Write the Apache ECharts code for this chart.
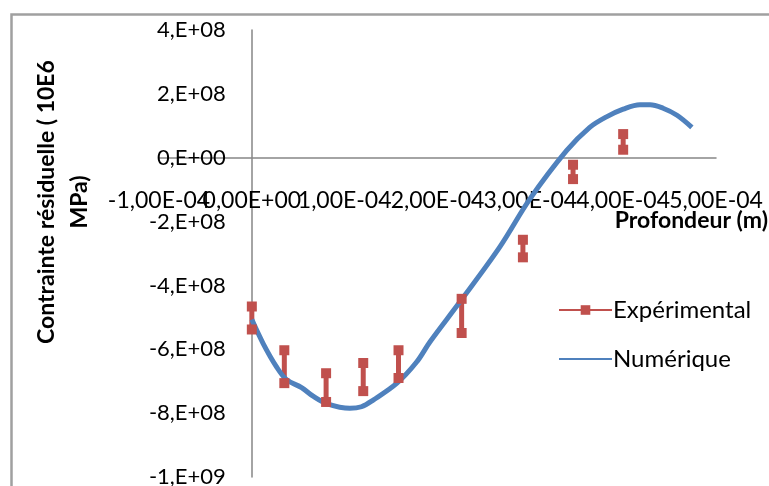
<!DOCTYPE html>
<html>
<head>
<meta charset="utf-8">
<script src="https://cdn.jsdelivr.net/npm/echarts@6/dist/echarts.min.js"></script>
<style>html,body{margin:0;padding:0;background:#fff}#c{width:769px;height:486px}</style>
</head>
<body>
<div id="c"></div>
<script>
// ---- data ----
var seriesNames = ['Expérimental', 'Numérique'];
var xTitle = 'Profondeur (m)';
var yTitle = 'Contrainte résiduelle ( 10E6\nMPa)';

var xTicks = [-1e-4, 0, 1e-4, 2e-4, 3e-4, 4e-4, 5e-4];
var xTickLabels = ['-1,00E-04', '0,00E+00', '1,00E-04', '2,00E-04', '3,00E-04', '4,00E-04', '5,00E-04'];
var yTicks = [-1e9, -8e8, -6e8, -4e8, -2e8, 0, 2e8, 4e8];
var yTickLabels = ['-1,E+09', '-8,E+08', '-6,E+08', '-4,E+08', '-2,E+08', '0,E+00', '2,E+08', '4,E+08'];

// experimental: depth, upper value, lower value
var expX    = [0, 0.35e-4, 0.80e-4, 1.20e-4, 1.58e-4, 2.26e-4, 2.92e-4, 3.46e-4, 4.00e-4];
var expHigh = [-4.66e8, -6.03e8, -6.75e8, -6.43e8, -6.03e8, -4.42e8, -2.57e8, -0.22e8, 0.74e8];
var expLow  = [-5.38e8, -7.06e8, -7.65e8, -7.31e8, -6.90e8, -5.49e8, -3.12e8, -0.67e8, 0.25e8];

// numerical curve
var numX = [0, 0.122e-4, 0.266e-4, 0.374e-4, 0.536e-4, 0.66e-4, 0.805e-4, 1.056e-4, 1.18e-4, 1.307e-4,
            1.56e-4, 1.775e-4, 1.918e-4, 2.24e-4, 2.67e-4, 2.996e-4, 3.39e-4, 3.64e-4, 3.82e-4, 4.0e-4,
            4.18e-4, 4.29e-4, 4.43e-4, 4.58e-4, 4.74e-4];
var numY = [-5.07e8, -5.82e8, -6.55e8, -6.95e8, -7.20e8, -7.47e8, -7.70e8, -7.85e8, -7.80e8, -7.59e8,
            -7.07e8, -6.40e8, -5.77e8, -4.52e8, -2.80e8, -1.29e8, 0.22e8, 0.95e8, 1.28e8, 1.52e8,
            1.66e8, 1.66e8, 1.55e8, 1.33e8, 0.95e8];

// ---- build ----
function tickIndex(v, ticks) {
  for (var i = 0; i < ticks.length; i++) {
    if (Math.abs(v - ticks[i]) < Math.abs(ticks[1] - ticks[0]) * 1e-3) return i;
  }
  return -1;
}
var expData = [];
for (var i = 0; i < expX.length; i++) {
  expData.push([expX[i], expHigh[i]]);
  expData.push([expX[i], expLow[i]]);
  expData.push([expX[i], '-']);
}
var numData = numX.map(function (x, i) { return [x, numY[i]]; });

var FONT = 'Lato';
var GL = 159, GR = 53, GT = 30, GB = 9;
var W = 769, H = 486;
var xMin = -1e-4, xMax = 5e-4, yMin = -1e9, yMax = 4e8;
// axis cross offsets (axes drawn through zero)
var zeroX = GL + (0 - xMin) / (xMax - xMin) * (W - GL - GR);
var zeroY = GT + (yMax - 0) / (yMax - yMin) * (H - GT - GB);

var xLabelStyle = { margin: 31, color: '#000', fontFamily: FONT, fontSize: 23, hideOverlap: false,
                    showMinLabel: true, showMaxLabel: true };
function xLabels(parity) {
  return Object.assign({}, xLabelStyle, {
    formatter: function (v) {
      var k = tickIndex(v, xTicks);
      return (k >= 0 && k % 2 === parity) ? xTickLabels[k] : '';
    }
  });
}

var chart = echarts.init(document.getElementById('c'), null, { renderer: 'canvas' });
chart.setOption({
  animation: false,
  backgroundColor: '#fff',
  grid: { left: GL, right: GR, top: GT, bottom: GB, containLabel: false, outerBoundsMode: 'none' },
  xAxis: [
    {
      type: 'value', min: xMin, max: xMax, interval: 1e-4,
      position: 'bottom', offset: -((H - GB) - zeroY),
      axisLine: { onZero: false, lineStyle: { color: '#868686', width: 1.5 } },
      axisTick: { show: false },
      splitLine: { show: false },
      axisLabel: xLabels(0)
    },
    {
      type: 'value', min: xMin, max: xMax, interval: 1e-4,
      position: 'top', offset: -(zeroY - GT),
      axisLine: { show: false, onZero: false },
      axisTick: { show: false },
      splitLine: { show: false },
      axisLabel: Object.assign(xLabels(1), { inside: true })
    }
  ],
  yAxis: {
    type: 'value', min: yMin, max: yMax, interval: 2e8,
    position: 'left', offset: -(zeroX - GL),
    axisLine: { show: true, onZero: false, lineStyle: { color: '#868686', width: 1.5 } },
    axisTick: { show: false },
    splitLine: { show: false },
    axisLabel: {
      margin: 26, color: '#000', fontFamily: FONT, fontSize: 22, hideOverlap: false,
      formatter: function (v) { var k = tickIndex(v, yTicks); return k >= 0 ? yTickLabels[k] : ''; }
    }
  },
  legend: {
    orient: 'vertical', left: 553, top: 293,
    itemWidth: 53, itemHeight: 12, itemGap: 25,
    textStyle: { color: '#000', fontFamily: FONT, fontSize: 24, padding: [0, 0, 0, -4] },
    data: [
      { name: seriesNames[0] },
      { name: seriesNames[1], itemStyle: { opacity: 0 } }
    ]
  },
  series: [
    {
      name: seriesNames[0], type: 'line', data: expData, xAxisIndex: 0,
      symbol: 'rect', symbolSize: 10, showSymbol: true, connectNulls: false,
      itemStyle: { color: '#C0504D' },
      lineStyle: { color: '#C0504D', width: 5 }
    },
    {
      name: seriesNames[1], type: 'line', data: numData, smooth: 0.35, xAxisIndex: 0,
      symbol: 'none', showSymbol: false,
      itemStyle: { color: '#4F81BD' },
      lineStyle: { color: '#4F81BD', width: 5 }
    }
  ],
  graphic: [
    { type: 'rect', left: 9, top: 12, shape: { width: 800, height: 500 },
      style: { fill: 'none', stroke: '#A0A0A0', lineWidth: 2.5 }, silent: true },
    { type: 'text', x: 63, y: 202, rotation: Math.PI / 2,
      style: { text: yTitle, fill: '#000', font: 'bold 23px ' + FONT, align: 'center', verticalAlign: 'middle', lineHeight: 33 } },
    { type: 'text', x: 768, y: 221,
      style: { text: xTitle, fill: '#000', font: 'bold 23px ' + FONT, align: 'right', verticalAlign: 'middle' } }
  ]
});
</script>
</body>
</html>
